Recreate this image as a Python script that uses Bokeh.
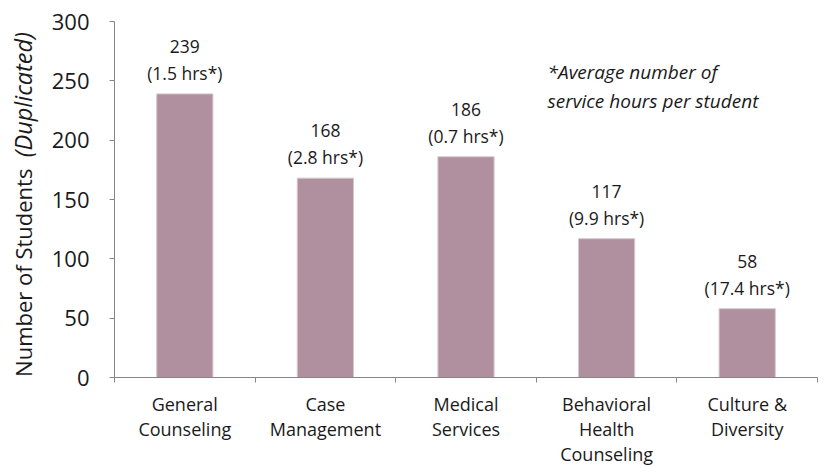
import numpy as np
from bokeh.plotting import figure
from bokeh.layouts import row
from bokeh.models import FixedTicker, Label, Range1d, ColumnDataSource
from bokeh.core.properties import value
from bokeh.embed import file_html
from bokeh.resources import INLINE

categories = ["General\nCounseling", "Case\nManagement", "Medical\nServices",
              "Behavioral\nHealth\nCounseling", "Culture &\nDiversity"]
students = [239, 168, 186, 117, 58]
avg_hours = [1.5, 2.8, 0.7, 9.9, 17.4]
y_ticks = [0, 50, 100, 150, 200, 250, 300]
y_title = ["Number of Students", "(Duplicated)"]
footnote = "*Average number of\nservice hours per student"

FONT = "Open Sans"
BAR = "#B0909F"
TXT = "#1a1a1a"
AX = "#868686"

n = len(categories)
xs = [i + 0.5 for i in range(n)]
labels = [f"{s}\n({h} hrs*)" for s, h in zip(students, avg_hours)]
src = ColumnDataSource(dict(x=xs, top=students, lab=labels))

LW = 40  # width of the strip that holds the y-axis title

p = figure(width=824 - LW, height=468, output_backend="svg", toolbar_location=None,
           x_range=Range1d(0, n), y_range=Range1d(0, 300),
           min_border_left=114 - LW, min_border_right=7, min_border_top=21,
           min_border_bottom=90)
p.outline_line_color = None
p.grid.grid_line_color = None

p.vbar(x="x", top="top", width=0.4, bottom=0, source=src,
       fill_color=BAR, line_color="#d8c8cf", line_width=1)

p.text(x="x", y="top", text="lab", source=src, text_align="center",
       text_baseline="bottom", y_offset=-9, text_font=value(FONT),
       text_font_size="17.5px", text_color=TXT, text_line_height=1.13)

# x axis
xa = p.xaxis[0]
xa.ticker = FixedTicker(ticks=xs, minor_ticks=list(range(n + 1)))
xa.major_label_overrides = {x: c for x, c in zip(xs, categories)}
xa.major_tick_out = 0
xa.major_tick_in = 0
xa.minor_tick_out = 5
xa.minor_tick_in = 0
xa.minor_tick_line_color = AX
xa.axis_line_color = AX
xa.major_label_standoff = 9
xa.major_label_text_font = FONT
xa.major_label_text_font_size = "18px"
xa.major_label_text_color = TXT
xa.major_label_text_line_height = 1.05

# y axis
ya = p.yaxis[0]
ya.ticker = FixedTicker(ticks=y_ticks)
ya.major_tick_out = 5
ya.major_tick_in = 0
ya.minor_tick_out = 0
ya.minor_tick_in = 0
ya.major_tick_line_color = AX
ya.axis_line_color = AX
ya.major_label_standoff = 20
ya.major_label_text_font = FONT
ya.major_label_text_font_size = "22px"
ya.major_label_text_color = TXT

# footnote
p.add_layout(Label(x=3.08, y=268, text=footnote,
                   text_align="left", text_baseline="top", text_font=FONT,
                   text_font_size="19px", text_font_style="italic", text_color=TXT,
                   text_line_height=1.08))

# y-axis title strip (normal + italic parts); its frame aligns with the main frame
t = figure(width=LW, height=468, output_backend="svg", toolbar_location=None,
           x_range=Range1d(0, LW), y_range=p.y_range,
           x_axis_type=None, y_axis_type=None,
           min_border_left=0, min_border_right=0, min_border_top=21,
           min_border_bottom=90)
t.outline_line_color = None
t.grid.grid_line_color = None
t.text(x=[22], y=[0.5], text=[y_title[0]], angle=np.pi / 2, text_align="left",
       text_baseline="middle", text_font=value(FONT), text_font_size="22px",
       text_color=TXT)
t.text(x=[22], y=[291], text=[y_title[1]], angle=np.pi / 2, text_align="right",
       text_baseline="middle", text_font=value(FONT), text_font_size="23.5px",
       text_font_style="italic", text_color=TXT)

layout = row(t, p, spacing=0)
open("out.html", "w").write(file_html(layout, INLINE))
